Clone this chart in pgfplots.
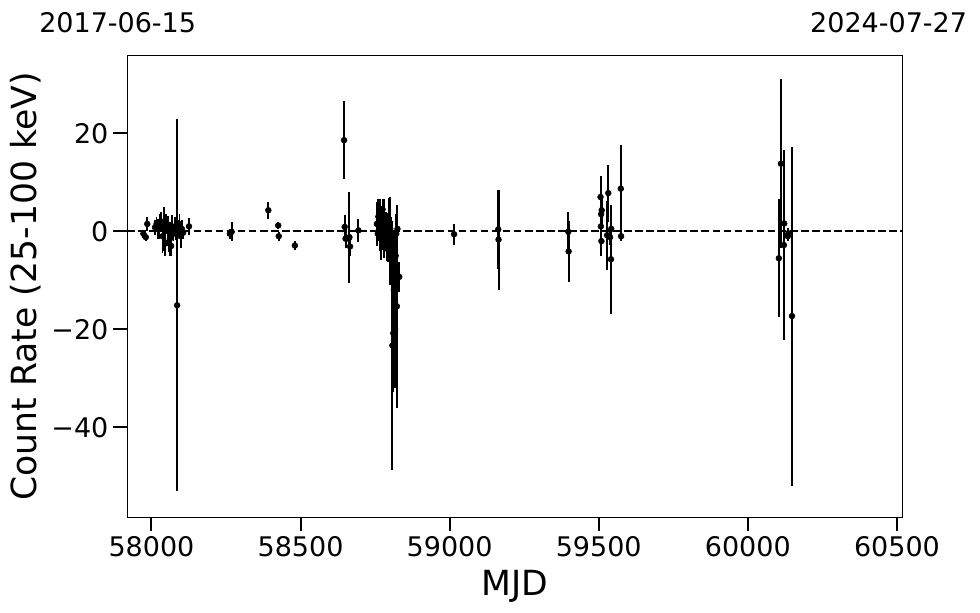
\documentclass[border=0pt]{standalone}
\usepackage{fontspec}
\setmainfont{DejaVu Sans}
\usepackage{pgfplots}
\pgfplotsset{compat=1.18}
\usepackage{pgfplotstable}
\newlength\px
\setlength\px{0.7227pt}

\pgfplotstableread{
x y e
57973 -0.5 0.8
57981 -1.2 0.7
57986 1.5 1.5
58012 0.8 1.5
58017 1.5 1.5
58022 0.5 2.0
58027 1.0 2.5
58032 2.0 2.0
58037 -1.0 3.5
58042 0.5 4.5
58047 -2.5 2.5
58050 1.5 2.0
58054 0.2 3.0
58058 -2.2 2.0
58062 -1.5 3.5
58066 -3.0 2.0
58070 0.8 2.5
58074 -0.5 1.5
58078 1.0 2.0
58081 0.3 2.0
58086 -15.1 38.0
58090 0.8 1.5
58094 1.5 2.0
58098 -1.0 2.5
58102 0.5 1.8
58106 -0.3 1.2
58126 1.0 1.8
58263 -0.5 1.0
58269 -0.1 1.9
58392 4.3 1.7
58425 1.2 0.8
58427 -1.0 0.9
58481 -2.9 0.9
58646 18.6 8.0
58648 0.9 2.5
58651 -1.5 2.0
58661 -1.5 2.0
58666 -3.1 2.0
58664 -1.2 9.3
58694 0.2 2.4
58756 1.5 4.5
58759 -0.5 1.5
58761 3.0 3.5
58763 0.3 1.2
58765 -1.0 3.0
58767 2.0 4.5
58769 0.8 1.0
58771 -0.3 5.5
58773 1.2 1.5
58775 4.5 2.0
58777 -1.8 2.0
58779 0.5 6.0
58781 2.5 1.5
58783 -2.5 1.5
58785 0.0 4.0
58787 1.0 2.0
58789 -3.5 2.5
58791 0.5 1.2
58793 -1.2 5.0
58795 2.2 4.5
58797 -0.8 1.5
58799 -2.0 9.0
58801 0.5 2.0
58803 -4.0 7.0
58805 -6.0 5.0
58808 -23.3 25.4
58811 -20.8 12.0
58813 -12.0 12.0
58815 -10.0 10.0
58817 -20.0 12.0
58819 -5.0 6.0
58821 -0.5 4.0
58823 -15.3 20.7
58825 0.5 4.0
58831 -9.3 3.0
59015 -0.6 2.1
59163 0.4 8.1
59164 -1.7 10.2
59398 -0.1 4.0
59399 -4.1 6.2
59506 7.0 2.5
59507 1.0 3.0
59508 3.5 7.8
59509 -2.0 3.0
59510 4.3 3.0
59528 -0.8 7.0
59532 7.8 5.8
59538 -1.2 1.5
59541 -5.7 11.1
59542 0.5 1.5
59574 8.7 8.9
59575 -1.0 1.0
60104 -5.5 12.0
60111 13.8 17.2
60121 -2.8 19.3
60122 1.6 1.5
60134 -1.0 1.0
60136 -0.4 1.0
60148 -17.3 34.6
}\datatable

\begin{document}
\begin{tikzpicture}
\useasboundingbox (-127.3\px,-95.7\px) rectangle (852.7\px,517.3\px);
\begin{axis}[
  at={(0,0)}, anchor=south west,
  scale only axis, width=775\px, height=461.6\px,
  xmin=57919, xmax=60518, ymin=-58.37, ymax=35.84,
  axis line style={line width=0.8bp},
  xtick={58000,58500,59000,59500,60000,60500},
  xticklabels={58000,58500,59000,59500,60000,60500},
  ytick={-40,-20,0,20},
  yticklabels={−40,−20,0,20},
  scaled x ticks=false, scaled y ticks=false,
  xtick pos=bottom, ytick pos=left,
  tick align=outside, major tick length=14\px,
  tick style={line width=1.4pt, black},
  ticklabel style={font=\fontsize{19.5}{23}\selectfont},
  clip=true,
]
\addplot[only marks, mark=*, mark size=2.1pt, black, mark options={fill=black},
  error bars/.cd, y dir=both, y explicit, error mark=none,
  error bar style={line width=1.4pt, black}]
  table[x=x, y=y, y error=e] {\datatable};
\addplot[black, line width=1.5bp, dash pattern=on 5.55bp off 2.4bp]
  coordinates {(57919,0) (60518,0)};
\end{axis}
\node[anchor=base west, inner sep=0, font=\fontsize{19.5}{23}\selectfont] at (-88.3\px,484.5\px) {2017-06-15};
\node[anchor=base east, inner sep=0, font=\fontsize{19.5}{23}\selectfont] at (840\px,484.5\px) {2024-07-27};
\node[anchor=base, inner sep=0, rotate=90, font=\fontsize{25}{30}\selectfont] at (-90.6\px,230.8\px) {Count Rate (25-100 keV)};
\node[anchor=base, inner sep=0, font=\fontsize{25}{30}\selectfont] at (387.5\px,-77.7\px) {MJD};
\end{tikzpicture}
\end{document}
